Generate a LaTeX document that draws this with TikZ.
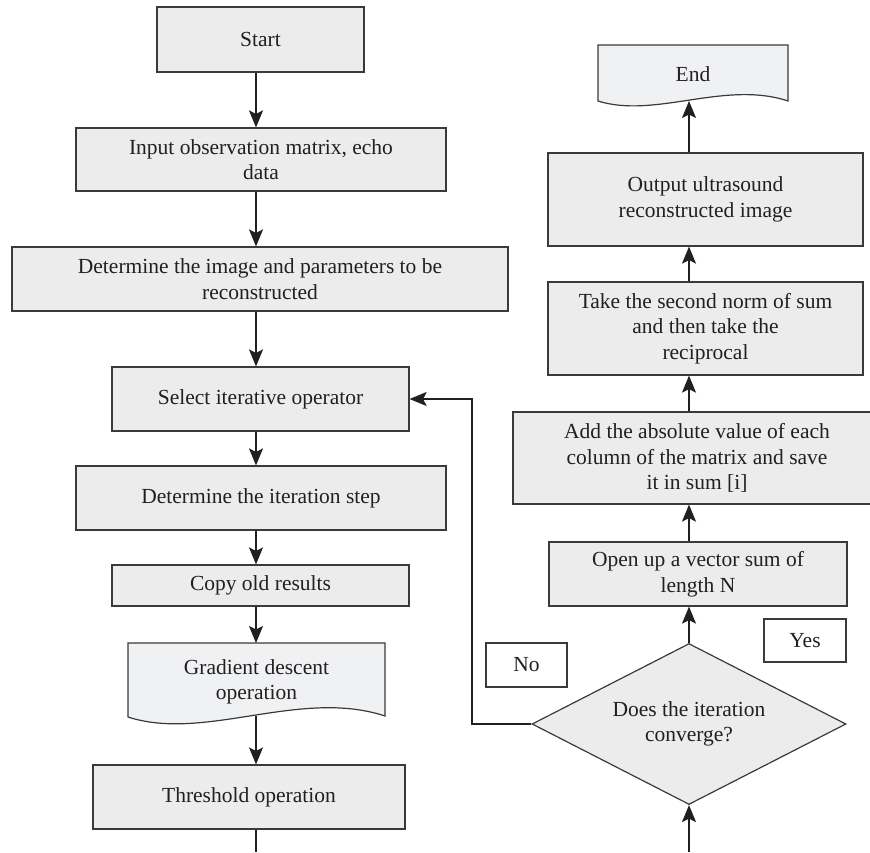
\documentclass[tikz,border=0pt]{standalone}
\usepackage{fontspec}
\setmainfont{Liberation Serif}
\usetikzlibrary{arrows.meta,shapes.geometric}
\definecolor{txt}{HTML}{231F20}
\definecolor{edge}{HTML}{3A3A3A}
\definecolor{boxfill}{HTML}{ECECEC}
\definecolor{docfill}{HTML}{F0F1F3}
\tikzset{
  box/.style={draw=edge, fill=boxfill, line width=1.2pt, inner sep=0pt, align=center,
    text=txt, font=\fontsize{21.5}{25.5}\selectfont},
  lbl/.style={draw=edge, fill=white, line width=1.2pt, inner sep=0pt, align=center,
    text=txt, font=\fontsize{21.5}{25.5}\selectfont},
  plain/.style={inner sep=0pt, align=center, text=txt, font=\fontsize{21.5}{25.5}\selectfont},
  docshape/.style={draw=edge, fill=docfill, line width=1.2pt},
  arr/.style={draw=txt, line width=1.1pt, -{Stealth[length=17pt,width=14pt,inset=3.5pt]}},
  ln/.style={draw=txt, line width=1.1pt}
}
\begin{document}
\begin{tikzpicture}[x=1pt,y=-1pt]
\useasboundingbox (0,0) rectangle (870,852);
% column reference coordinates
\coordinate (colL) at (256,0);
\coordinate (colR) at (689,0);
\coordinate (loopc) at (472,0);
\coordinate (botL) at (256,852);
\coordinate (botR) at (689,852);
% left column
\node[box, minimum width=207pt, minimum height=65pt] (start) at (260.5,39.5) {Start};
\node[box, minimum width=370pt, minimum height=63pt] (input) at (261,159.5) {Input observation matrix, echo\\data};
\node[box, minimum width=496pt, minimum height=64pt] (det) at (260,279) {Determine the image and parameters to be\\reconstructed};
\node[box, minimum width=297pt, minimum height=64pt] (select) at (260.5,399) {Select iterative operator};
\node[box, minimum width=370pt, minimum height=64pt] (step) at (261,498) {Determine the iteration step};
\node[box, minimum width=297pt, minimum height=41pt] (copy) at (260.5,585.5) {Copy old results};
% gradient descent (document shape)
\path[docshape] (128,643) -- (385,643) -- (385,716)
  .. controls (300,688) and (205,742) .. (128,717) -- cycle;
\node[plain] (grad) at (256.5,682) {Gradient descent\\operation};
\coordinate (gtop) at (256,643);
\coordinate (gwave) at (256,715.5);
\node[box, minimum width=312pt, minimum height=64pt] (thresh) at (249,797) {Threshold operation};
% right column
\path[docshape] (598,45) -- (788,45) -- (788,101)
  .. controls (725,80) and (655,119) .. (598,101) -- cycle;
\node[plain] (endn) at (693,74) {End};
\coordinate (ewave) at (689,101);
\node[box, minimum width=315pt, minimum height=93pt] (output) at (705.5,199.5) {Output ultrasound\\reconstructed image};
\node[box, minimum width=315pt, minimum height=93pt] (take) at (705.5,328.5) {Take the second norm of sum\\and then take the\\reciprocal};
\node[box, minimum width=368pt, minimum height=92pt] (add) at (697,458) {Add the absolute value of each\\column of the matrix and save\\it in sum [i]};
\node[box, minimum width=298pt, minimum height=64pt] (open) at (698,574) {Open up a vector sum of\\length N};
\node[box, diamond, shape aspect=1.95, minimum width=314pt, minimum height=161pt] (dec) at (689,724) {Does the iteration\\converge?};
\node[lbl, minimum width=82pt, minimum height=43pt] (yes) at (805,640.5) {Yes};
\node[lbl, minimum width=81pt, minimum height=44pt] (no) at (526.5,665) {No};
% connectors, left column
\draw[arr] (start.south -| colL) -- (input.north -| colL);
\draw[arr] (input.south -| colL) -- (det.north -| colL);
\draw[arr] (det.south -| colL) -- (select.north -| colL);
\draw[arr] (select.south -| colL) -- (step.north -| colL);
\draw[arr] (step.south -| colL) -- (copy.north -| colL);
\draw[arr] (copy.south -| colL) -- (gtop);
\draw[arr] (gwave) -- (thresh.north -| colL);
\draw[ln] (thresh.south -| colL) -- (botL);
% connectors, right column
\draw[arr] (botR) -- (dec.south);
\draw[arr] (dec.north) -- (open.south -| colR);
\draw[arr] (open.north -| colR) -- (add.south -| colR);
\draw[arr] (add.north -| colR) -- (take.south -| colR);
\draw[arr] (take.north -| colR) -- (output.south -| colR);
\draw[arr] (output.north -| colR) -- (ewave);
% loop back
\draw[arr] (dec.west) -| (loopc |- select.east) -- (select.east);
\end{tikzpicture}
\end{document}
